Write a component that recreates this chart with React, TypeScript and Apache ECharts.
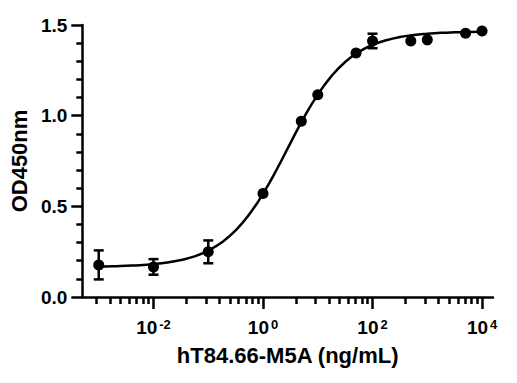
import React, { useEffect, useRef } from "react";
import * as echarts from "echarts";

// Measured points (concentration in ng/mL, mean OD450 and error half-width)
const concentrations = [0.001, 0.01, 0.1, 1, 5, 10, 50, 100, 500, 1000, 5000, 10000];
const meanOD = [0.177, 0.166, 0.249, 0.571, 0.969, 1.115, 1.345, 1.412, 1.412, 1.418, 1.454, 1.467];
const errorOD = [0.08, 0.043, 0.063, 0.0, 0.0, 0.0, 0.0, 0.04, 0.0, 0.0, 0.0, 0.0];

// Fitted curve (log10 concentration, OD450)
const fitLogConc = [
  -3, -2.75, -2.5, -2.25, -2, -1.75, -1.5, -1.25, -1, -0.75, -0.5, -0.25, 0, 0.25, 0.5, 0.75,
  1, 1.25, 1.5, 1.75, 2, 2.25, 2.5, 2.75, 3, 3.25, 3.5, 3.75, 4,
];
const fitOD = [
  0.168, 0.169, 0.172, 0.175, 0.181, 0.19, 0.204, 0.224, 0.256, 0.302, 0.367, 0.456, 0.57, 0.703,
  0.849, 0.991, 1.116, 1.218, 1.296, 1.352, 1.39, 1.416, 1.434, 1.445, 1.452, 1.457, 1.46, 1.462,
  1.463,
];

// Axis ticks
const xLabelExponents = [-2, 0, 2, 4];
const xMinorBaseExponents = [-4, -2, 0, 2];
const xMinorMultipliers = [4, 9, 16, 25, 36, 49, 64, 81];
const yTickValues = [0, 0.5, 1.0, 1.5];

const X_MIN = -3.3;
const X_MAX = 4.2;
const FONT = "'Liberation Sans', Arial, Helvetica, sans-serif";

export default function App() {
  const ref = useRef<HTMLDivElement>(null);

  useEffect(() => {
    if (!ref.current) return;
    const chart = echarts.init(ref.current, undefined, { renderer: "svg" });

    const minorTicks: number[] = [];
    xMinorBaseExponents.forEach((e) => {
      xMinorMultipliers.forEach((m) => {
        const v = e + Math.log10(m);
        if (v > X_MIN && v < X_MAX) minorTicks.push(v);
      });
    });

    const points = concentrations.map((c, i) => [Math.log10(c), meanOD[i]]);
    const errBars = concentrations
      .map((c, i) => [Math.log10(c), meanOD[i] - errorOD[i], meanOD[i] + errorOD[i]])
      .filter((_, i) => errorOD[i] > 0);
    const fit = fitLogConc.map((x, i) => [x, fitOD[i]]);

    const option: any = {
      animation: false,
      backgroundColor: "#ffffff",
      textStyle: { fontFamily: FONT },
      grid: { left: 80, right: 24, top: 25, bottom: 86, containLabel: false },
      xAxis: [
        {
          type: "value",
          min: X_MIN,
          max: X_MAX,
          name: "hT84.66-M5A (ng/mL)",
          nameLocation: "middle",
          nameGap: 47,
          nameTextStyle: { fontSize: 22, fontWeight: "bold", color: "#000", fontFamily: FONT },
          axisLine: { show: true, onZero: false, lineStyle: { color: "#000", width: 2.5 } },
          axisTick: {
            show: true,
            length: 12,
            customValues: xLabelExponents,
            lineStyle: { color: "#000", width: 2.5 },
          },
          axisLabel: {
            customValues: xLabelExponents,
            margin: 21,
            color: "#000",
            formatter: (v: number) => `{b|10}{s|${v}}`,
            rich: {
              b: { fontSize: 19, fontWeight: "bold", color: "#000", fontFamily: FONT },
              s: {
                fontSize: 13,
                fontWeight: "bold",
                color: "#000",
                fontFamily: FONT,
                verticalAlign: "top",
                padding: [0, 0, 0, 2],
              },
            },
          },
          splitLine: { show: false },
        },
        {
          type: "value",
          min: X_MIN,
          max: X_MAX,
          position: "bottom",
          offset: 0,
          axisLine: { show: false, onZero: false },
          axisTick: {
            show: true,
            length: 7,
            customValues: minorTicks,
            lineStyle: { color: "#000", width: 2.5 },
          },
          axisLabel: { show: false },
          splitLine: { show: false },
        },
      ],
      yAxis: {
        type: "value",
        min: 0,
        max: 1.5,
        interval: 0.5,
        name: "OD450nm",
        nameLocation: "middle",
        nameRotate: 90,
        nameGap: 52,
        nameTextStyle: { fontSize: 22, fontWeight: "bold", color: "#000", fontFamily: FONT },
        axisLine: { show: true, onZero: false, lineStyle: { color: "#000", width: 2.5 } },
        axisTick: { show: true, length: 11, lineStyle: { color: "#000", width: 2.5 } },
        minorTick: { show: true, splitNumber: 5, length: 6, lineStyle: { color: "#000", width: 2.5 } },
        axisLabel: {
          margin: 15,
          fontSize: 19,
          fontWeight: "bold",
          color: "#000",
          fontFamily: FONT,
          formatter: (v: number) => (yTickValues.includes(v) ? v.toFixed(1) : ""),
        },
        splitLine: { show: false },
        minorSplitLine: { show: false },
      },
      series: [
        {
          type: "line",
          data: fit,
          smooth: true,
          showSymbol: false,
          symbol: "none",
          lineStyle: { color: "#000", width: 2.5 },
          z: 2,
        },
        {
          type: "custom",
          data: errBars,
          encode: { x: 0, y: [1, 2] },
          renderItem: (params: any, api: any) => {
            const x = api.value(0);
            const lo = api.coord([x, api.value(1)]);
            const hi = api.coord([x, api.value(2)]);
            const half = 5;
            const style = { stroke: "#000", lineWidth: 2.5 };
            return {
              type: "group",
              children: [
                { type: "line", shape: { x1: lo[0], y1: lo[1], x2: hi[0], y2: hi[1] }, style },
                { type: "line", shape: { x1: lo[0] - half, y1: lo[1], x2: lo[0] + half, y2: lo[1] }, style },
                { type: "line", shape: { x1: hi[0] - half, y1: hi[1], x2: hi[0] + half, y2: hi[1] }, style },
              ],
            };
          },
          z: 3,
        },
        {
          type: "scatter",
          data: points,
          symbol: "circle",
          symbolSize: 11,
          itemStyle: { color: "#000", opacity: 1 },
          z: 4,
        },
      ],
    };

    chart.setOption(option);
    return () => chart.dispose();
  }, []);

  return (
    <div
      ref={ref}
      style={{ position: "absolute", left: 0, top: 0, width: 517, height: 383 }}
    />
  );
}
